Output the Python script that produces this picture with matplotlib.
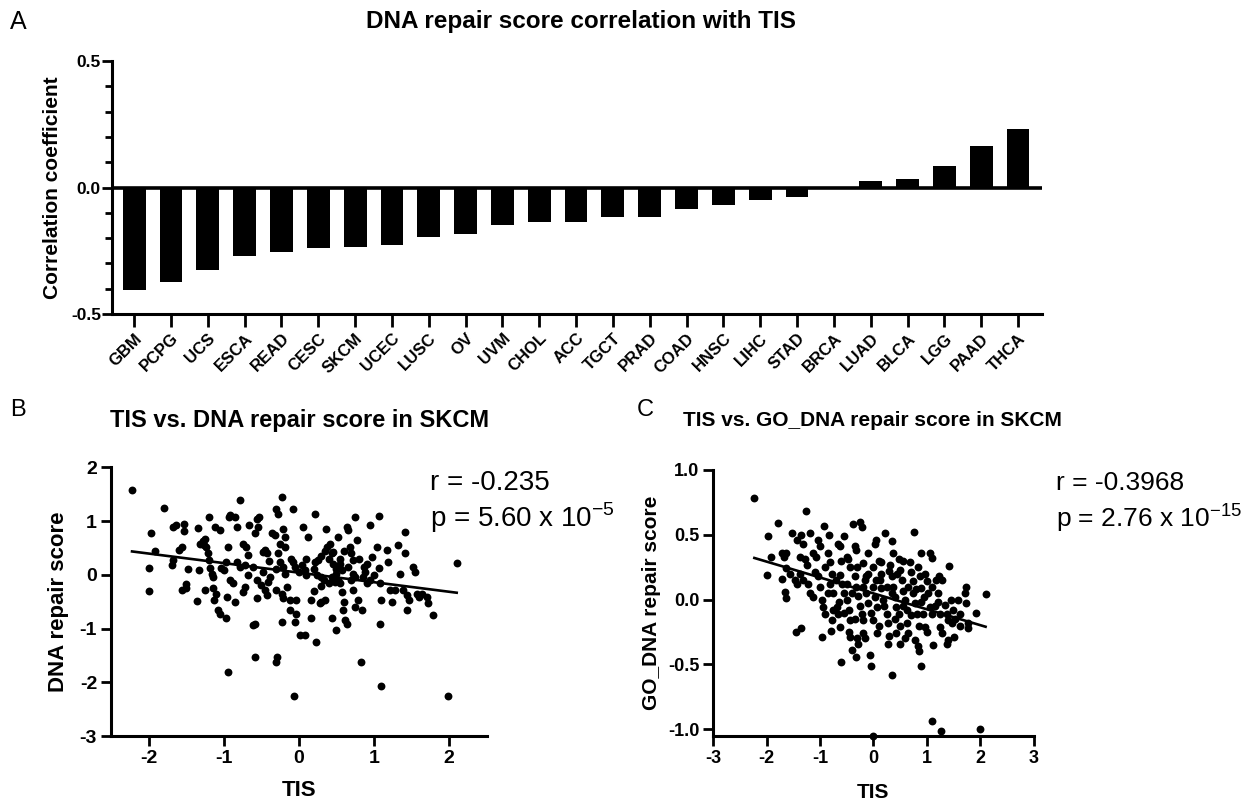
import numpy as np
import matplotlib
matplotlib.use("Agg")
import matplotlib.pyplot as plt
from matplotlib.ticker import MultipleLocator

plt.rcParams['font.family'] = ['Liberation Sans', 'DejaVu Sans']
plt.rcParams['axes.unicode_minus'] = False
plt.rcParams['mathtext.fontset'] = 'custom'
plt.rcParams['mathtext.rm'] = 'Liberation Sans'

# panel A: correlation of DNA repair score with TIS per cancer type
cancers = ["GBM", "PCPG", "UCS", "ESCA", "READ", "CESC", "SKCM", "UCEC", "LUSC", "OV",
           "UVM", "CHOL", "ACC", "TGCT", "PRAD", "COAD", "HNSC", "LIHC", "STAD", "BRCA",
           "LUAD", "BLCA", "LGG", "PAAD", "THCA"]
corr = [-0.407, -0.373, -0.327, -0.271, -0.254, -0.238, -0.235, -0.228, -0.196, -0.184,
        -0.149, -0.138, -0.137, -0.116, -0.115, -0.084, -0.071, -0.050, -0.036, -0.003,
        0.026, 0.032, 0.086, 0.165, 0.233]

# panel B: TIS vs DNA repair score in SKCM
tis_b = [-2.22, -1.80, -1.97, -1.91, -2.00, -2.00, -1.68, -1.64, -1.53, -1.53,
         -1.69, -1.68, -1.59, -1.56, -1.55, -1.50, -1.48, -1.50, -1.36, -1.34,
         -1.32, -1.26, -1.33, -1.23, -1.21, -1.20, -1.19, -1.11, -1.05, -1.25,
         -1.28, -1.18, -1.16, -1.14, -1.25, -1.14, -1.13, -1.10, -1.08, -1.05,
         -0.97, -1.03, -1.00, -0.97, -0.94, -0.93, -0.92, -0.85, -0.82, -0.83,
         -0.79, -0.92, -0.88, -0.96, -0.85, -0.94, -0.79, -0.74, -0.70, -0.68,
         -0.72, -0.68, -0.72, -0.74, -0.66, -0.59, -0.61, -0.56, -0.56, -0.54,
         -0.53, -0.56, -0.59, -0.61, -0.59, -0.45, -0.43, -0.48, -0.48, -0.41,
         -0.39, -0.50, -0.45, -0.43, -0.36, -0.32, -0.30, -0.28, -0.25, -0.28,
         -0.25, -0.30, -0.23, -0.21, -0.23, -0.21, -0.19, -0.19, -0.31, -0.29,
         -0.21, -0.19, -0.16, -0.12, -0.12, -0.22, -0.08, -0.08, -0.05, -0.04,
         -0.04, -0.05, -0.06, 0.01, 0.08, 0.04, 0.08, 0.10, 0.06, 0.12,
         0.16, 0.16, 0.21, 0.21, 0.24, 0.26, 0.28, 0.30, 0.35, 0.23,
         0.30, 0.33, 0.37, 0.36, 0.41, 0.44, 0.46, 0.44, 0.48, 0.50,
         0.44, 0.49, 0.52, 0.55, 0.57, 0.52, 0.55, 0.57, 0.59, 0.61,
         0.64, 0.64, 0.66, 0.68, 0.70, 0.72, 0.72, 0.75, 0.72, 0.75,
         0.77, 0.79, 0.84, 0.83, 0.86, 0.88, 0.90, 0.95, 0.97, 1.04,
         1.06, 1.08, 1.07, 1.08, 1.09, 1.09, 1.17, 1.19, 1.21, 1.24,
         1.28, 1.32, 1.35, 1.39, 1.41, 1.41, 1.44, 1.46, 1.44, 1.52,
         1.55, 1.57, 1.60, 1.64, 1.70, 1.72, 1.79, 1.99, 2.10,
         0.30, 0.35, 0.40, 0.45, 0.50, 0.55, 0.60, 0.65, 0.70, 0.80,
         0.85, 0.90, 0.95, 1.00, 0.20, 0.10, 0.00, -0.10, -0.30, -0.40,
         0.30, 0.60, 0.75, 0.40, 0.20]
dna_b = [1.58, 1.25, 0.78, 0.44, 0.12, -0.30, 0.89, 0.92, 0.94, 0.82,
         0.18, 0.27, 0.46, 0.52, -0.29, -0.25, 0.11, -0.17, -0.49, 0.87,
         0.58, 0.55, 0.09, 0.52, 0.40, 0.27, 1.08, 0.89, 0.83, 0.67,
         0.63, 0.12, 0.02, -0.04, -0.29, -0.25, -0.47, -0.35, -0.66, -0.72,
         -0.81, 0.12, 0.09, 0.24, 0.52, 1.08, 1.11, 1.08, 0.89, 0.24,
         0.15, -0.10, -0.16, -0.41, -0.50, -1.81, 1.39, 0.58, 0.52, 0.37,
         0.18, -0.01, -0.22, -0.32, 0.92, 0.78, 0.15, -0.10, -0.44, 0.89,
         1.08, 1.03, -0.91, -0.94, -1.53, 0.46, 0.40, 0.43, 0.06, -0.13,
         -0.04, -0.19, -0.29, -0.38, 0.77, 0.74, 1.23, 1.14, 0.58, 0.40,
         0.24, -0.29, -0.35, -0.44, -0.87, 0.86, 0.71, 0.52, -1.62, -1.53,
         0.15, 0.02, -0.22, -0.47, -0.66, 1.45, 1.22, 0.24, 0.15, -0.47,
         -0.72, -0.87, -2.26, -1.12, -1.12, 0.18, 0.09, -0.01, 0.89, 0.71,
         -0.47, -0.81, 1.14, 0.24, -0.01, 0.27, -0.53, -0.50, -0.47, -1.25,
         -0.04, -0.10, 0.52, 0.86, 0.58, 0.40, 0.43, -0.04, -0.13, 0.02,
         -0.81, -1.03, 0.71, 0.21, 0.09, -0.10, -0.16, -0.32, -0.66, -0.84,
         -0.91, 0.89, 0.83, 0.52, 0.40, 0.27, 0.02, -0.04, -0.29, 1.08,
         0.65, -0.47, -0.66, -1.62, 0.15, 0.06, -0.16, 0.92, 0.33, 0.52,
         0.12, -0.16, 1.09, -0.91, -0.47, -2.07, 0.46, 0.24, -0.29, -0.50,
         -0.29, 0.55, 0.02, -0.29, 0.80, 0.40, -0.38, -0.47, -0.66, 0.15,
         0.06, -0.35, -0.41, -0.35, -0.41, -0.53, -0.75, -2.25, 0.22,
         0.35, 0.45, 0.30, 0.20, 0.10, 0.30, 0.45, 0.15, -0.10, 0.30,
         -0.05, 0.20, -0.10, 0.00, 0.10, 0.30, 0.05, 0.30, 0.10, 0.25,
         -0.20, -0.50, -0.60, -0.15, -0.30]

# panel C: TIS vs GO_DNA repair score in SKCM
tis_c = [-2.23, -1.79, -1.98, -2.00, -1.92, -1.72, -1.68, -1.63, -1.53, -1.44,
         -1.63, -1.56, -1.72, -1.66, -1.63, -1.47, -1.44, -1.35, -1.31, -1.19,
         -1.26, -1.38, -1.28, -1.25, -1.38, -1.31, -1.45, -1.36, -1.22, -1.19,
         -1.13, -1.13, -1.07, -1.10, -1.03, -1.03, -1.00, -0.97, -1.00, -0.97,
         -0.95, -0.91, -0.92, -0.83, -0.85, -0.81, -0.78, -0.81, -0.75, -0.75,
         -0.80, -0.78, -0.69, -0.66, -0.63, -0.66, -0.63, -0.56, -0.63, -0.58,
         -0.55, -0.60, -0.50, -0.47, -0.44, -0.50, -0.45, -0.44, -0.44, -0.41,
         -0.38, -0.35, -0.32, -0.35, -0.32, -0.28, -0.32, -0.28, -0.25, -0.22,
         -0.20, -0.22, -0.19, -0.19, -0.16, -0.14, -0.10, -0.13, -0.10, -0.07,
         -0.05, 0.00, 0.03, 0.05, 0.00, 0.03, 0.06, 0.00, 0.06, 0.12,
         0.15, 0.18, 0.15, 0.22, 0.25, 0.28, 0.28, 0.31, 0.34, 0.37,
         0.34, 0.37, 0.35, 0.40, 0.43, 0.47, 0.43, 0.50, 0.47, 0.50,
         0.53, 0.56, 0.59, 0.62, 0.62, 0.65, 0.68, 0.71, 0.75, 0.76,
         0.75, 0.78, 0.81, 0.78, 0.84, 0.84, 0.87, 0.90, 0.90, 0.93,
         0.96, 0.90, 0.86, 0.89, 0.96, 1.01, 1.03, 1.06, 1.09, 1.06,
         1.09, 1.09, 1.12, 1.18, 1.21, 1.21, 1.25, 1.25, 1.28, 1.23,
         1.28, 1.26, 1.37, 1.40, 1.34, 1.37, 1.40, 1.42, 1.46, 1.49,
         1.53, 1.48, 1.51, 1.59, 1.62, 1.62, 1.71, 1.73, 1.74, 1.78,
         1.78, 1.93, 1.99, 2.10, 0.00,
         -0.90, -0.85, -0.70, -0.65, -0.60, -0.55, -0.50, -0.45, -0.40, -0.35,
         -0.30, -0.25, -0.20, -0.15, -0.10, -0.05, 0.05, 0.10, 0.15, 0.20,
         0.25, 0.30, 0.35, 0.40, 0.45, 0.50, 0.55, 0.60, 0.65, 0.70,
         0.80, 0.85, 0.95, 1.00, 1.10, 1.15, 0.30, 0.10, -0.30, 0.55]
go_c = [0.78, 0.59, 0.49, 0.19, 0.33, 0.36, 0.33, 0.36, 0.51, 0.46,
        0.24, 0.20, 0.16, 0.06, 0.01, 0.15, 0.12, 0.50, 0.43, 0.51,
        0.68, 0.33, 0.31, 0.27, 0.20, 0.15, -0.25, -0.22, 0.12, 0.05,
        0.02, 0.36, 0.33, 0.21, 0.18, 0.46, 0.41, -0.29, 0.10, 0.00,
        -0.06, -0.11, 0.57, 0.50, 0.36, 0.29, 0.20, 0.12, 0.05, -0.08,
        -0.24, -0.16, -0.06, -0.11, -0.21, 0.43, 0.41, 0.49, 0.19, 0.12,
        0.05, -0.48, 0.33, 0.31, 0.25, 0.00, -0.08, -0.16, -0.29, -0.39,
        0.58, 0.41, 0.38, 0.18, 0.10, 0.03, -0.44, -0.34, 0.60, 0.56,
        0.28, -0.11, -0.16, -0.26, 0.15, 0.05, -0.03, 0.18, 0.36, -0.43,
        -0.51, 0.25, 0.43, 0.46, 0.10, 0.02, -0.06, -0.16, -0.26, 0.15,
        0.09, 0.00, 0.29, 0.51, -0.11, -0.18, -0.34, 0.27, 0.18, 0.10,
        0.45, 0.36, -0.58, 0.02, -0.06, -0.11, -0.26, -0.34, 0.31, 0.23,
        0.15, 0.07, 0.00, -0.08, -0.18, -0.26, 0.29, 0.21, 0.14, 0.52,
        0.05, -0.03, -0.11, -0.31, -0.36, 0.25, 0.18, 0.09, -0.02, -0.11,
        -0.21, 0.36, -0.40, -0.51, 0.20, 0.14, 0.05, 0.36, 0.32, -0.06,
        -0.11, -0.94, -0.35, 0.15, 0.05, -0.02, -0.11, -0.21, -0.26, 0.18,
        0.15, -1.01, -0.34, -0.31, -0.04, -0.11, -0.16, 0.26, 0.00, -0.08,
        -0.15, -0.18, -0.29, 0.00, -0.11, -0.20, 0.05, 0.10, -0.03, -0.18,
        -0.22, -0.10, -1.00, 0.04, -1.05,
        0.25, 0.05, 0.15, -0.02, 0.30, -0.10, 0.12, -0.25, 0.05, -0.15,
        0.25, -0.05, 0.10, -0.30, 0.20, -0.10, 0.15, -0.20, 0.20, -0.05,
        0.10, -0.28, 0.05, -0.15, 0.20, -0.20, 0.30, -0.30, 0.10, -0.12,
        0.08, -0.20, 0.02, -0.25, 0.10, -0.05, 0.22, 0.30, -0.30, -0.05]

bold = dict(fontweight='bold')
fig = plt.figure(figsize=(12.5, 8.06), dpi=100)

# ---- A ----
axA = fig.add_axes([0.0896, 0.6104, 0.744, 0.3139])
xpos = np.arange(len(cancers))
axA.bar(xpos, corr, width=0.62, color='black')
axA.axhline(0, color='black', lw=2.6)
axA.set_xlim(-0.6, len(cancers) - 0.35)
axA.set_ylim(-0.5, 0.5)
axA.set_yticks([-0.5, 0.0, 0.5])
axA.set_yticklabels(["-0.5", "0.0", "0.5"], fontsize=12.5, **bold)
axA.yaxis.set_minor_locator(MultipleLocator(0.1))
axA.set_xticks(xpos)
axA.set_xticklabels(cancers, rotation=45, ha='right', rotation_mode='anchor',
                    fontsize=12, **bold)
axA.tick_params(axis='x', length=9, width=2, pad=3)
axA.tick_params(axis='y', which='major', length=7, width=2, pad=1)
axA.tick_params(axis='y', which='minor', length=5, width=2)
axA.set_ylabel("Correlation coefficient", fontsize=15, **bold)
axA.yaxis.set_label_coords(-0.054, 0.5)
for s in ['top', 'right']:
    axA.spines[s].set_visible(False)
for s in ['left', 'bottom']:
    axA.spines[s].set_linewidth(2.2)
fig.text(0.465, 0.973, "DNA repair score correlation with TIS", ha='center', va='center',
         fontsize=17.5, **bold)
fig.text(0.0144, 0.973, "A", ha='center', va='center', fontsize=18)


def scatter_panel(ax, x, y, ylabel, r_txt, p_txt, txt_x, txt_y, lab_fs, tick_fs, ann_fs):
    ax.scatter(x, y, s=32, color='black', linewidths=0, clip_on=False, zorder=3)
    k, b = np.polyfit(x, y, 1)
    xs = np.array([min(x), max(x)])
    ax.plot(xs, k * xs + b, color='black', lw=1.9, zorder=4)
    ax.set_xlabel("TIS", fontsize=lab_fs, **bold)
    ax.set_ylabel(ylabel, fontsize=lab_fs, **bold)
    for s in ['top', 'right']:
        ax.spines[s].set_visible(False)
    for s in ['left', 'bottom']:
        ax.spines[s].set_linewidth(2.2)
    ax.tick_params(length=7, width=2, labelsize=tick_fs, pad=3)
    for lab in ax.get_xticklabels() + ax.get_yticklabels():
        lab.set_fontweight('bold')
    ax.text(txt_x, txt_y[0], r_txt, fontsize=ann_fs, ha='left', va='center')
    ax.text(txt_x, txt_y[1], p_txt, fontsize=ann_fs, ha='left', va='center')


# ---- B ----
axB = fig.add_axes([0.0888, 0.0868, 0.3006, 0.3334])
axB.set_xlim(-2.5, 2.5)
axB.set_ylim(-3, 2)
axB.set_xticks([-2, -1, 0, 1, 2])
axB.set_yticks([-3, -2, -1, 0, 1, 2])
scatter_panel(axB, tis_b, dna_b, "DNA repair score",
              "r = -0.235", r"p = 5.60 x 10$^{\mathregular{-5}}$", 1.75, (1.71, 1.06),
              16, 14, 20)
axB.yaxis.set_label_coords(-0.112, 0.5)
axB.xaxis.set_label_coords(0.5, -0.164)
fig.text(0.240, 0.4777, "TIS vs. DNA repair score in SKCM", ha='center', va='center',
         fontsize=17, **bold)
fig.text(0.0144, 0.491, "B", ha='center', va='center', fontsize=17)

# ---- C ----
axC = fig.add_axes([0.5706, 0.0872, 0.2563, 0.3297])
axC.set_xlim(-3, 3)
axC.set_ylim(-1.05, 1.0)
axC.set_xticks([-3, -2, -1, 0, 1, 2, 3])
axC.set_yticks([-1.0, -0.5, 0.0, 0.5, 1.0])
axC.set_yticklabels(["-1.0", "-0.5", "0.0", "0.5", "1.0"])
scatter_panel(axC, tis_c, go_c, "GO_DNA repair score",
              "r = -0.3968", r"p = 2.76 x 10$^{\mathregular{-15}}$", 3.42, (0.90, 0.63),
              15, 13, 19)
axC.yaxis.set_label_coords(-0.163, 0.5)
axC.xaxis.set_label_coords(0.5, -0.178)
fig.text(0.6976, 0.4777, "TIS vs. GO_DNA repair score in SKCM", ha='center', va='center',
         fontsize=15, **bold)
fig.text(0.516, 0.491, "C", ha='center', va='center', fontsize=17)

fig.savefig("out.png", dpi=100)
